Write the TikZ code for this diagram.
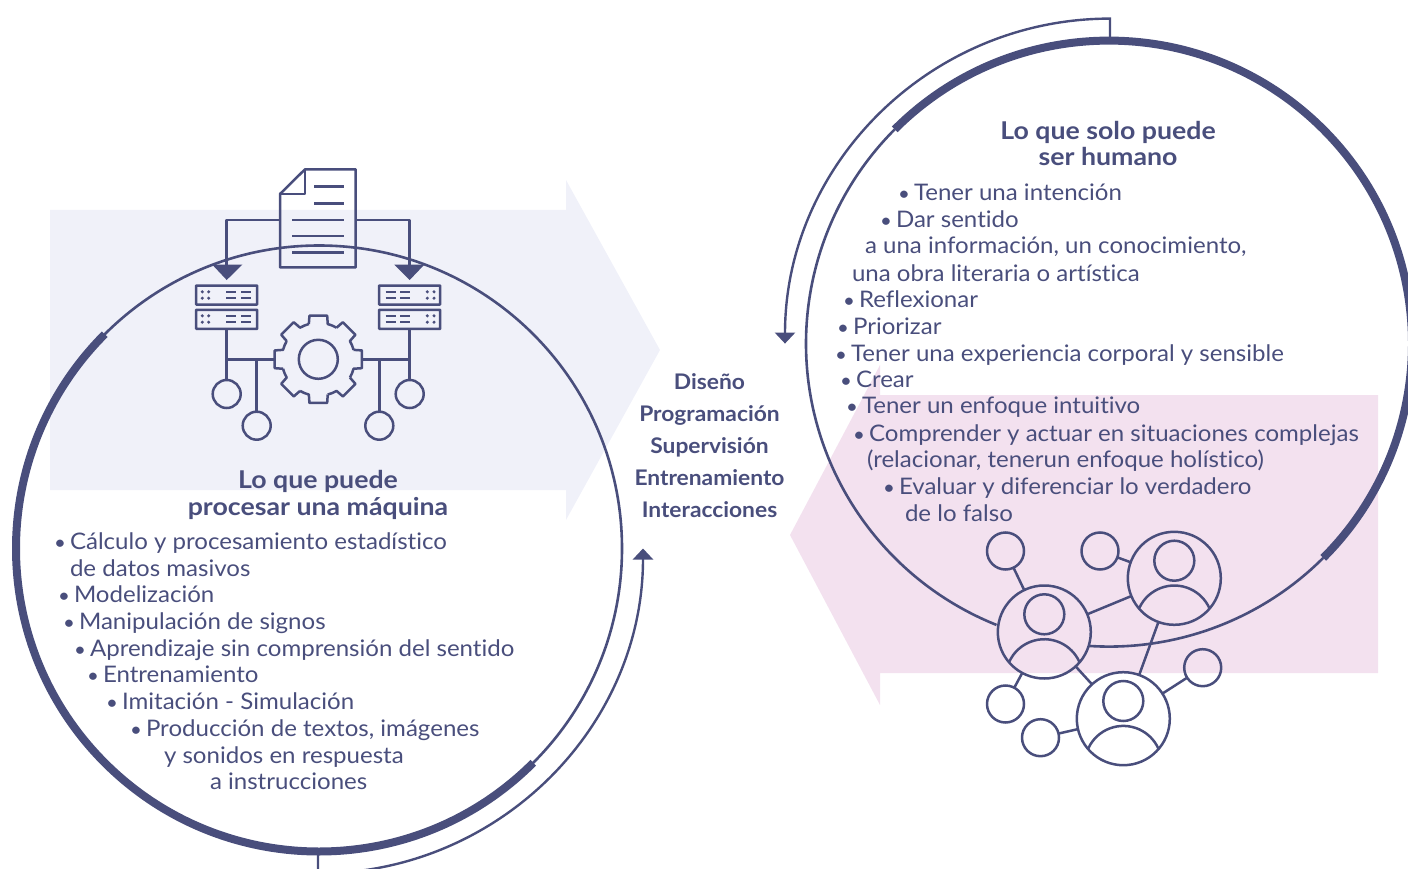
\documentclass[tikz,border=0pt]{standalone}
\usepackage{fontspec}
\setmainfont[Ligatures=NoCommon]{Lato}
\newfontfamily\bodyf[FakeStretch=1.055,Ligatures=NoCommon]{Lato}
\newfontfamily\titlef[FakeStretch=1.09,Ligatures=NoCommon]{Lato}
\newfontfamily\midf[FakeStretch=1.06,Ligatures=NoCommon]{Lato}
\usetikzlibrary{arrows.meta}
\definecolor{ink}{HTML}{494E7C}
\definecolor{lav}{HTML}{F0F1F9}
\definecolor{pinkbg}{HTML}{F3E1EF}
\tikzset{
  thin line/.style={draw=ink,line width=2.6pt},
  flow/.style={draw=ink,line width=2.4pt,-{Triangle[length=11pt,width=20pt]}},
  icon line/.style={draw=ink,line width=2.5pt,line join=round},
  thick arc/.style={draw=ink,line width=8pt},
  txt/.style={text=ink,font=\bodyf\fontsize{22.8}{26}\selectfont,anchor=base west,inner sep=0pt,outer sep=0pt,yshift=-1pt},
  ttl/.style={text=ink,font=\titlef\fontsize{24.5}{26}\selectfont\bfseries,anchor=base,inner sep=0pt,outer sep=0pt,yshift=-1pt},
  mid/.style={text=ink,font=\midf\fontsize{21.5}{26}\selectfont\bfseries,anchor=base,inner sep=0pt,outer sep=0pt,yshift=-0.5pt},
  leaf/.style={circle,draw=ink,line width=2.5pt,minimum size=28pt,inner sep=0pt,outer sep=0pt},
  small circ/.style={circle,draw=ink,line width=2.5pt,minimum size=37pt,inner sep=0pt,outer sep=0pt},
  big/.style={circle,draw=ink,line width=2.5pt,minimum size=93pt,inner sep=0pt,outer sep=0pt},
  headc/.style={circle,draw=ink,line width=2.5pt,minimum size=40pt,inner sep=0pt,outer sep=0pt},
  srv/.style={draw=ink,line width=2.5pt,rounded corners=0.5pt,minimum width=61pt,minimum height=19pt,inner sep=0pt,outer sep=0pt},
  doc/.style={draw=ink,line width=2.5pt,line join=round},
}
\newcommand{\bul}{\llap{\scalebox{.85}{•}\hspace{4pt}}}
\newcommand{\rackdetail}[5]{%
  \fill[ink] (#1,#5-3.2) circle[radius=1.7] (#2,#5-3.2) circle[radius=1.7] (#1,#5+3.2) circle[radius=1.7] (#2,#5+3.2) circle[radius=1.7];
  \draw[ink,line width=2pt] (#3,#5-3.2) -- ++(10,0) (#3,#5+3.2) -- ++(10,0) (#4,#5-3.2) -- ++(10,0) (#4,#5+3.2) -- ++(10,0);
}
\newcommand{\shoulders}[2]{\draw[icon line] (#1-35,#2+29.7) arc[start angle=204.6,end angle=335.4,radius=38.5];}
\begin{document}
\begin{tikzpicture}[x=1pt,y=-1pt]
\useasboundingbox (0,0) rectangle (1408,869);
% background arrows
\fill[lav] (50,210) -- (566,210) -- (566,180) -- (660,350) -- (566,520) -- (566,490) -- (50,490) -- cycle;
\fill[pinkbg] (1378,395) -- (880,395) -- (880,365) -- (790,535) -- (880,705) -- (880,673) -- (1378,673) -- cycle;
% circles
\coordinate (lc) at (319,548.5);
\coordinate (rc) at (1109,343.6);
\draw[thin line] (lc) circle[radius=303];
\draw[thick arc] ([shift={(225:303)}]lc) arc[start angle=225,end angle=45,radius=303];
\draw[thin line] ([shift={(225:303)}]rc) arc[start angle=225,end angle=111.8,radius=303];
\draw[thin line] ([shift={(93.8:303)}]rc) arc[start angle=93.8,end angle=45,radius=303];
\draw[thick arc] ([shift={(225:303)}]rc) arc[start angle=225,end angle=405,radius=303];
% flow arrows
\coordinate (lstart) at (318,851);
\coordinate (lknee) at (318,873.5);
\coordinate (rstart) at (1110,40);
\coordinate (rknee) at (1110,18.6);
\draw[flow] (lstart) -- (lknee) arc[start angle=90,end angle=0,radius=325];
\draw[flow] (rstart) -- (rknee) arc[start angle=270,end angle=180,radius=325];
% machine icon: document
\draw[doc] (305,169.3) -- (355.7,169.3) -- (355.7,267.3) -- (280,267.3) -- (280,194) -- cycle;
\draw[doc] (305,169.3) -- (305,194) -- (280,194);
\draw[icon line] (314.3,186.7) -- (344,186.7) (314.3,203.3) -- (344,203.3)
  (292.3,220) -- (344,220) (292.3,236) -- (344,236) (292.3,252.7) -- (344,252.7);
% feeds
\draw[icon line] (280,220) -- (226.5,220) -- (226.5,270);
\draw[icon line] (355.7,220) -- (409.7,220) -- (409.7,270);
\fill[ink] (212.3,264.7) -- (242.3,264.7) -- (226.7,280) -- cycle;
\fill[ink] (394.3,264.7) -- (424.3,264.7) -- (409.7,280) -- cycle;
% servers
\node[srv] (sl1) at (226.7,295) {};
\node[srv] (sl2) at (226.7,319.3) {};
\node[srv] (sr1) at (409.7,295) {};
\node[srv] (sr2) at (409.7,319.3) {};
\rackdetail{202.3}{208.7}{226}{241}{295}
\rackdetail{202.3}{208.7}{226}{241}{319}
\rackdetail{427.3}{434}{385.5}{400.3}{295}
\rackdetail{427.3}{434}{385.5}{400.3}{319}
% gear
\coordinate (gc) at (318.3,359.3);
\foreach \a in {0,45,...,315}{
  \draw[icon line] ([shift={(\a-15:36.5)}]gc) -- ([shift={(\a-11.5:44.5)}]gc) -- ([shift={(\a+11.5:44.5)}]gc) -- ([shift={(\a+15:36.5)}]gc)
     arc[start angle=\a+15,end angle=\a+30,radius=36.5];
}
\node[circle,draw=ink,line width=2.5pt,minimum size=39pt,inner sep=0pt] (gi) at (gc) {};
% leaves
\node[leaf] (l1) at (226.7,394) {};
\node[leaf] (l2) at (256.7,425.7) {};
\node[leaf] (r1) at (409.7,394) {};
\node[leaf] (r2) at (379.3,425.7) {};
\coordinate (jl) at (226.7,359.3);
\coordinate (jl2) at (256.7,359.3);
\coordinate (jr) at (409.7,359.3);
\coordinate (jr2) at (379.3,359.3);
\coordinate (gl) at (274.3,359.3);
\coordinate (gr) at (362.5,359.3);
\draw[icon line] (sl2.south) -- (l1.north);
\draw[icon line] (sr2.south) -- (r1.north);
\draw[icon line] (jl) -- (gl) (jr) -- (gr);
\draw[icon line] (jl2) -- (l2.north) (jr2) -- (r2.north);
% people network
\node[big] (A) at (1044.3,632) {};
\node[big] (B) at (1174.3,578.3) {};
\node[big] (C) at (1123.3,718.7) {};
\node[headc] (ha) at (1044.3,614.3) {};
\node[headc] (hb) at (1174.3,560.7) {};
\node[headc] (hc) at (1123.3,701) {};
\shoulders{1044.3}{632}
\shoulders{1174.3}{578.3}
\shoulders{1123.3}{718.7}
\node[small circ] (s1) at (1005.5,551) {};
\node[small circ] (s2) at (1100,551) {};
\node[small circ] (s3) at (1202.7,667.7) {};
\node[small circ] (s4) at (1005.5,704) {};
\node[small circ] (s5) at (1040.5,737.7) {};
\draw[icon line] (s1) -- (A) (s2) -- (B) (s3) -- (C) (s4) -- (A) (s5) -- (C) (A) -- (B) (A) -- (C) (B) -- (C);
% left text
\node[ttl] (t1) at (318,487) {Lo que puede};
\node[ttl] (t2) at (318,514) {procesar una máquina};
\node[txt] (a1) at (70,548) {\bul Cálculo y procesamiento estadístico};
\node[txt] (a2) at (70,575) {de datos masivos};
\node[txt] (a3) at (74,601) {\bul Modelización};
\node[txt] (a4) at (79,628) {\bul Manipulación de signos};
\node[txt] (a5) at (90,655) {\bul Aprendizaje sin comprensión del sentido};
\node[txt] (a6) at (103,681) {\bul Entrenamiento};
\node[txt] (a7) at (122,708) {\bul Imitación - Simulación};
\node[txt] (a8) at (146,735) {\bul Producción de textos, imágenes};
\node[txt] (a9) at (164,762) {y sonidos en respuesta};
\node[txt] (a10) at (210,788) {a instrucciones};
% middle text
\node[mid] (m1) at (709.5,389) {Diseño};
\node[mid] (m2) at (709.5,421) {Programación};
\node[mid] (m3) at (709.5,453) {Supervisión};
\node[mid] (m4) at (709.5,485) {Entrenamiento};
\node[mid] (m5) at (709.5,517) {Interacciones};
% right text
\node[ttl] (u1) at (1108,139) {Lo que solo puede};
\node[ttl] (u2) at (1108,165) {ser humano};
\node[txt] (b1) at (914,200) {\bul Tener una intención};
\node[txt] (b2) at (896,226) {\bul Dar sentido};
\node[txt] (b3) at (865,253) {a una información, un conocimiento,};
\node[txt] (b4) at (852,280) {una obra literaria o artística};
\node[txt] (b5) at (859,306) {\bul Reflexionar};
\node[txt] (b6) at (853,333) {\bul Priorizar};
\node[txt] (b7) at (851,360) {\bul Tener una experiencia corporal y sensible};
\node[txt] (b8) at (856,386) {\bul Crear};
\node[txt] (b9) at (862,412) {\bul Tener un enfoque intuitivo};
\node[txt] (b10) at (869,440) {\bul Comprender y actuar en situaciones complejas};
\node[txt] (b11) at (867,466) {(relacionar, tenerun enfoque holístico)};
\node[txt] (b12) at (899,493) {\bul Evaluar y diferenciar lo verdadero};
\node[txt] (b13) at (905,520) {de lo falso};
\end{tikzpicture}
\end{document}
